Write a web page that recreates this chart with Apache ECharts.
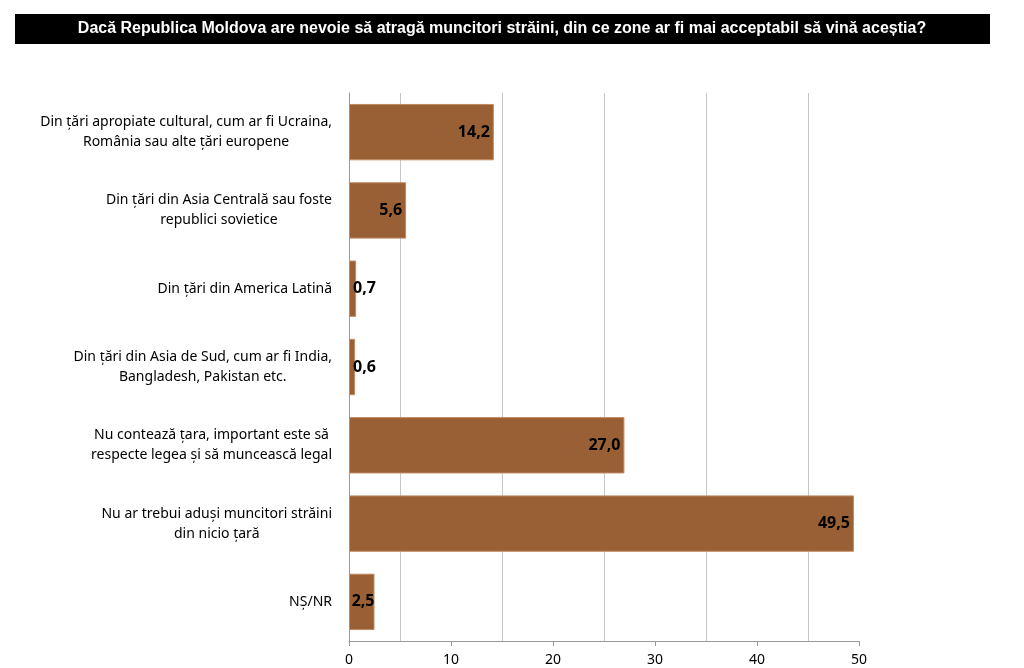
<!DOCTYPE html>
<html>
<head>
<meta charset="utf-8">
<script src="https://cdn.jsdelivr.net/npm/echarts@6/dist/echarts.min.js"></script>
<style>
  html, body { margin: 0; padding: 0; background: #fff; }
  #chart { width: 1024px; height: 668px; }
</style>
</head>
<body>
<div id="chart"></div>
<script>
var titleText = 'Dacă Republica Moldova are nevoie să atragă muncitori străini, din ce zone ar fi mai acceptabil să vină aceștia?';

// each category is split into its two printed lines
var categories = [
  ['Din țări apropiate cultural, cum ar fi Ucraina,', 'România sau alte țări europene'],
  ['Din țări din Asia Centrală sau foste', 'republici sovietice'],
  ['Din țări din America Latină'],
  ['Din țări din Asia de Sud, cum ar fi India,', 'Bangladesh, Pakistan etc.'],
  ['Nu contează țara, important este să', 'respecte legea și să muncească legal'],
  ['Nu ar trebui aduși muncitori străini', 'din nicio țară'],
  ['NȘ/NR']
];
var values = [14.2, 5.6, 0.7, 0.6, 27.0, 49.5, 2.5];

var chart = echarts.init(document.getElementById('chart'));

var catNames = categories.map(function (c) { return c.join('\n'); });

var barData = values.map(function (v) {
  var item = { value: v };
  // short bars: Excel pushes the label out from the base
  if (v < 2) {
    item.label = { position: 'insideLeft', distance: 4 };
  } else if (v < 4) {
    item.label = { position: 'insideRight', distance: 0 };
  }
  return item;
});

var option = {
  animation: false,
  backgroundColor: '#fff',
  graphic: [
    {
      type: 'rect',
      shape: { x: 15, y: 14, width: 975, height: 30 },
      style: { fill: '#000' }
    },
    {
      type: 'text',
      x: 502,
      y: 29,
      style: {
        text: titleText,
        fill: '#fff',
        font: 'bold 16px "Liberation Sans", Arial, sans-serif',
        align: 'center',
        verticalAlign: 'middle'
      }
    }
  ],
  grid: {
    left: 349,
    right: 165,
    top: 93,
    bottom: 27,
    containLabel: false
  },
  xAxis: {
    type: 'value',
    min: 0,
    max: 50,
    interval: 10,
    axisLine: { show: true, lineStyle: { color: '#999', width: 1 } },
    axisTick: { show: true, length: 5, lineStyle: { color: '#999' } },
    axisLabel: {
      color: '#000',
      fontSize: 14,
      margin: 12,
      fontFamily: '"Noto Sans", sans-serif'
    },
    splitLine: { show: false },
    minorTick: { show: false, splitNumber: 2 },
    minorSplitLine: { show: true, lineStyle: { color: '#c6c6c6', width: 1 } }
  },
  yAxis: {
    type: 'category',
    inverse: true,
    data: catNames,
    axisLine: { show: true, lineStyle: { color: '#999', width: 1 } },
    axisTick: { show: false },
    axisLabel: {
      margin: 17,
      align: 'right',
      formatter: function (val) {
        return val.split('\n').map(function (s) { return '{c|' + s + '}'; }).join('\n');
      },
      rich: {
        c: {
          align: 'center',
          fontSize: 14,
          lineHeight: 20,
          color: '#000',
          fontFamily: '"Noto Sans", sans-serif'
        }
      }
    }
  },
  series: [
    {
      name: 'procent',
      type: 'bar',
      data: barData,
      barCategoryGap: '28%',
      itemStyle: {
        color: '#9a6035',
        borderColor: '#c08a62',
        borderWidth: 1
      },
      label: {
        show: true,
        position: 'insideRight',
        distance: 4,
        color: '#000',
        fontSize: 16,
        fontWeight: 'bold',
        fontFamily: '"Noto Sans", sans-serif',
        formatter: function (p) {
          return p.value.toFixed(1).replace('.', ',');
        }
      }
    }
  ]
};

chart.setOption(option);
</script>
</body>
</html>
